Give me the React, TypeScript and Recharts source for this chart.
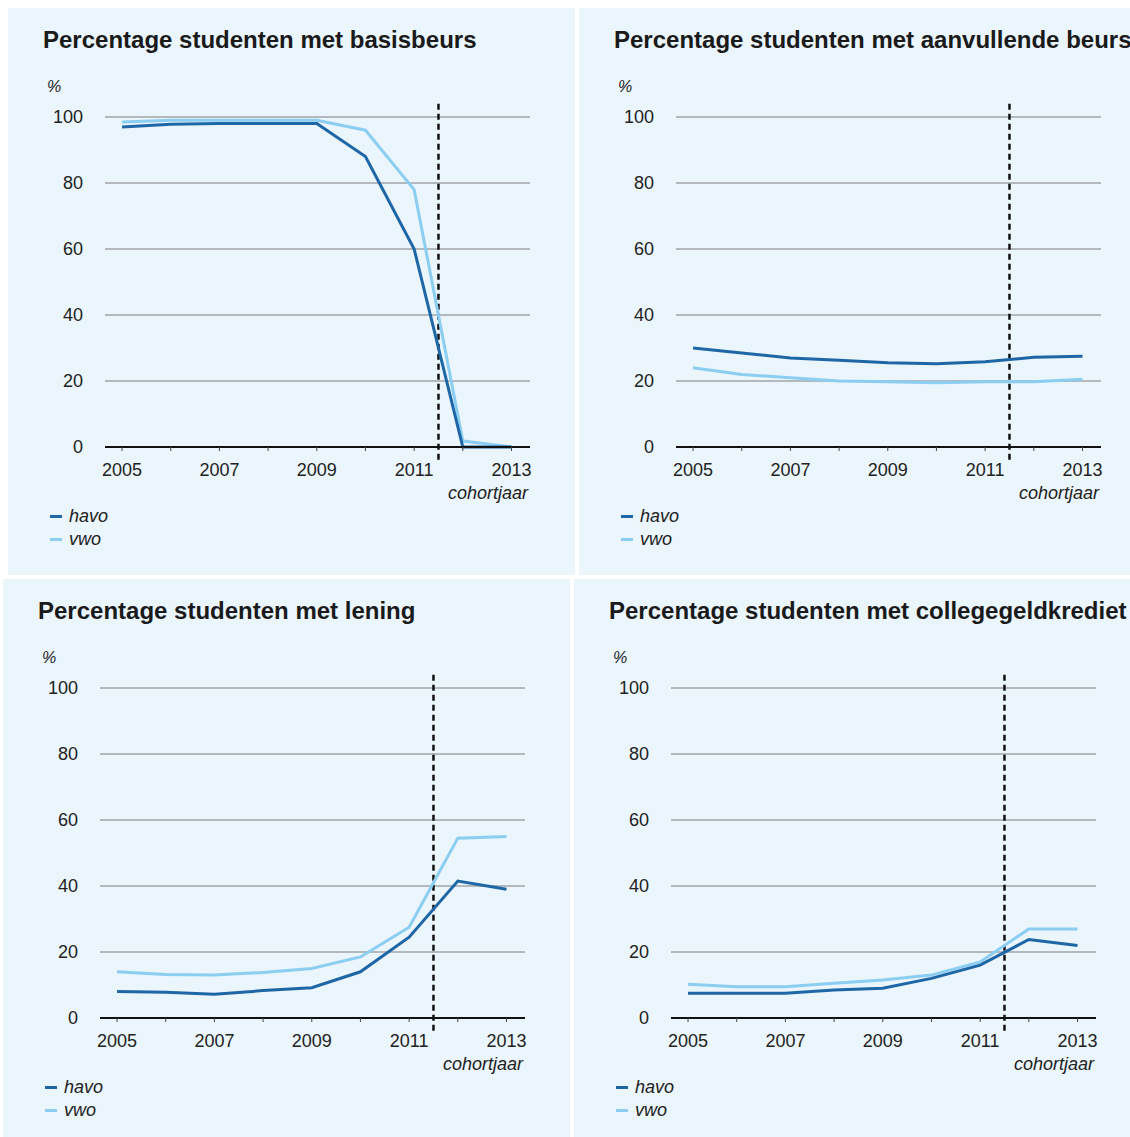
import { CartesianGrid, Line, LineChart, ReferenceLine, XAxis, YAxis } from 'recharts';

const years = [2005, 2006, 2007, 2008, 2009, 2010, 2011, 2012, 2013];
const yTicks = [0, 20, 40, 60, 80, 100];

const basisHavo = [97, 97.8, 98, 98, 98, 88, 60, 0, 0];
const basisVwo = [98.5, 99, 99, 99, 99, 96, 78, 1.8, 0];

const aanvHavo = [30, 28.5, 27, 26.3, 25.5, 25.2, 25.8, 27.2, 27.5];
const aanvVwo = [24, 22, 21, 20, 19.8, 19.5, 19.8, 19.8, 20.5];

const leningHavo = [8, 7.8, 7.2, 8.3, 9.2, 14, 24.5, 41.5, 39];
const leningVwo = [14, 13.2, 13, 13.8, 15, 18.5, 27.5, 54.5, 55];

const kredietHavo = [7.5, 7.5, 7.5, 8.5, 9, 12, 16, 23.8, 22];
const kredietVwo = [10.2, 9.5, 9.5, 10.5, 11.5, 13, 17, 27, 27];

const HAVO = '#1f66a6';
const VWO = '#8ccdf2';
const BG = '#eaf5fc';
const FONT = '"Liberation Sans", Arial, Helvetica, sans-serif';

const PLOT_LEFT = 97;
const PLOT_WIDTH = 425;
const PLOT_TOP = 109;
const PLOT_BOTTOM = 439;
const X_AXIS_H = 30;

function rows(havo: number[], vwo: number[]) {
  return years.map((year, i) => ({ year, havo: havo[i], vwo: vwo[i] }));
}

/* eslint-disable @typescript-eslint/no-explicit-any */
function YearTick({ x, y, payload }: any) {
  if (payload.value % 2 === 0) return null;
  return (
    <text x={x} y={y} dy="0.71em" textAnchor="middle" fill="#222" fontSize={18} fontFamily={FONT}>
      {payload.value}
    </text>
  );
}

interface PanelProps {
  left: number;
  top: number;
  width: number;
  height: number;
  title: string;
  havo: number[];
  vwo: number[];
}

function Panel({ left, top, width, height, title, havo, vwo }: PanelProps) {
  const data = rows(havo, vwo);
  const rightMargin = width - PLOT_LEFT - PLOT_WIDTH;
  const bottomMargin = height - PLOT_BOTTOM - X_AXIS_H;
  const text = { position: 'absolute' as const, fontFamily: FONT, color: '#222', whiteSpace: 'nowrap' as const };
  return (
    <div style={{ position: 'absolute', left, top, width, height, background: BG, overflow: 'hidden' }}>
      <div style={{ ...text, left: 35, top: 20, fontSize: 24, lineHeight: '24px', fontWeight: 700, color: '#1a1a1a' }}>
        {title}
      </div>
      <div style={{ ...text, left: 39, top: 71, fontSize: 16, lineHeight: '16px', fontStyle: 'italic' }}>%</div>
      <div style={{ position: 'absolute', left: 0, top: 0 }}>
        <LineChart
          width={width}
          height={height}
          data={data}
          margin={{ top: PLOT_TOP, right: rightMargin, bottom: bottomMargin, left: 0 }}
        >
          <CartesianGrid vertical={false} stroke="#7c7c7c" strokeWidth={1} />
          <XAxis
            dataKey="year"
            type="number"
            domain={[2004.65, 2013.38]}
            ticks={years}
            interval={0}
            height={X_AXIS_H}
            tickSize={4}
            tickMargin={12}
            tickLine={{ stroke: '#444' }}
            axisLine={{ stroke: '#111', strokeWidth: 2 }}
            tick={<YearTick />}
          />
          <YAxis
            domain={[0, 100]}
            ticks={yTicks}
            width={PLOT_LEFT}
            tickSize={0}
            tickMargin={22}
            tickLine={false}
            axisLine={false}
            tick={{ fill: '#222', fontSize: 18, fontFamily: FONT }}
          />
          <ReferenceLine
            segment={[
              { x: 2011.5, y: 104 },
              { x: 2011.5, y: -5 },
            ]}
            ifOverflow="visible"
            stroke="#111"
            strokeWidth={2.5}
            strokeDasharray="6 4"
          />
          <Line type="linear" dataKey="vwo" stroke={VWO} strokeWidth={3} dot={false} isAnimationActive={false} />
          <Line type="linear" dataKey="havo" stroke={HAVO} strokeWidth={3} dot={false} isAnimationActive={false} />
        </LineChart>
      </div>
      <div
        style={{
          ...text,
          left: PLOT_LEFT + PLOT_WIDTH - 102,
          width: 100,
          textAlign: 'right',
          top: 476,
          fontSize: 18,
          lineHeight: '18px',
          fontStyle: 'italic',
        }}
      >
        cohortjaar
      </div>
      {[
        { label: 'havo', color: HAVO, y: 499 },
        { label: 'vwo', color: VWO, y: 522 },
      ].map((item) => (
        <div key={item.label} style={{ position: 'absolute', left: 42, top: item.y, height: 18 }}>
          <div style={{ position: 'absolute', left: 0, top: 8, width: 12, height: 3, background: item.color }} />
          <div style={{ ...text, left: 19, top: 0, fontSize: 18, lineHeight: '18px', fontStyle: 'italic' }}>
            {item.label}
          </div>
        </div>
      ))}
    </div>
  );
}

export default function App() {
  return (
    <div style={{ position: 'absolute', left: 0, top: 0, width: 1130, height: 1137, background: '#fff', overflow: 'hidden' }}>
      <Panel left={8} top={8} width={567} height={567} title="Percentage studenten met basisbeurs" havo={basisHavo} vwo={basisVwo} />
      <Panel left={579} top={8} width={551} height={567} title="Percentage studenten met aanvullende beurs" havo={aanvHavo} vwo={aanvVwo} />
      <Panel left={3} top={579} width={567} height={558} title="Percentage studenten met lening" havo={leningHavo} vwo={leningVwo} />
      <Panel left={574} top={579} width={556} height={558} title="Percentage studenten met collegegeldkrediet" havo={kredietHavo} vwo={kredietVwo} />
    </div>
  );
}
